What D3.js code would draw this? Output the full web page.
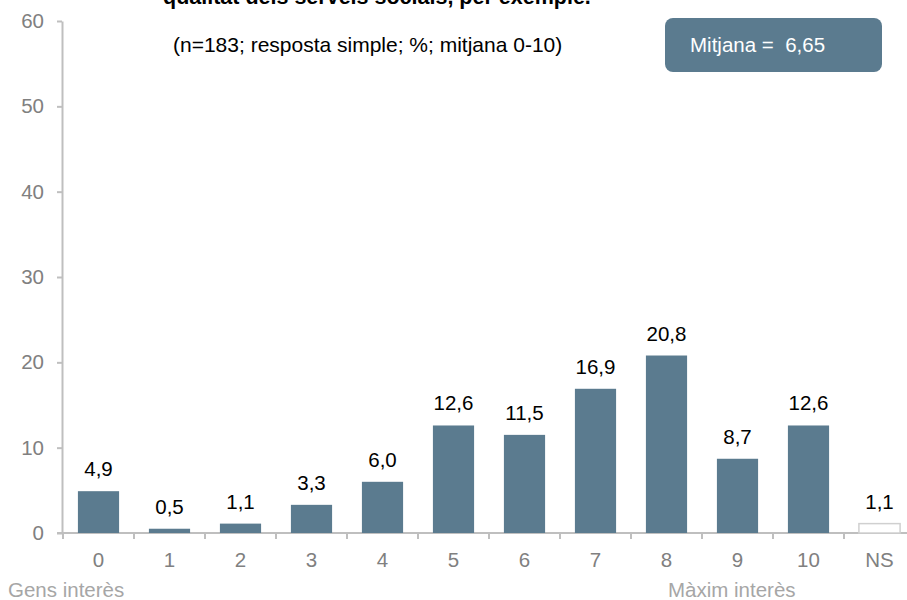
<!DOCTYPE html>
<html>
<head>
<meta charset="utf-8">
<script src="https://cdn.jsdelivr.net/npm/d3@7"></script>
<style>
  html, body { margin: 0; padding: 0; background: #fff; }
  svg { display: block; font-family: "Liberation Sans", Arial, sans-serif; }
</style>
</head>
<body>
<svg id="chart" width="907" height="600"></svg>
<script>
// Distribution of answers on the 0-10 interest scale, plus "NS"
const categories = ["0", "1", "2", "3", "4", "5", "6", "7", "8", "9", "10", "NS"];
const values = [4.9, 0.5, 1.1, 3.3, 6.0, 12.6, 11.5, 16.9, 20.8, 8.7, 12.6, 1.1];
const yTicks = [0, 10, 20, 30, 40, 50, 60];
const titleText = "qualitat dels serveis socials, per exemple.";
const subtitleText = "(n=183; resposta simple; %; mitjana 0-10)";
const meanText = "Mitjana =  6,65";
const scaleEnds = ["Gens interès", "Màxim interès"];

const svg = d3.select("#chart");
const plotLeft = 63, plotRight = 915, plotTop = 21, plotBottom = 533;
const fs = 20.5;

const x = d3.scaleBand().domain(categories).range([plotLeft, plotRight]).paddingInner(0.42).paddingOuter(0.21);
const y = d3.scaleLinear().domain([0, 60]).range([plotBottom, plotTop]);
const fmt = v => v.toFixed(1).replace(".", ",");

// Y axis
const yAxis = svg.append("g").attr("transform", `translate(${plotLeft - 1},0)`)
  .call(d3.axisLeft(y).tickValues(yTicks).tickSize(5).tickPadding(13).tickSizeOuter(0));
yAxis.select(".domain").attr("stroke", "#bfbfbf").attr("stroke-width", 2);
yAxis.selectAll(".tick line").attr("stroke", "#bfbfbf").attr("stroke-width", 2);
yAxis.selectAll(".tick text").attr("fill", "#808080").attr("font-size", fs)
  .attr("font-family", "Liberation Sans, Arial, sans-serif");

// X axis baseline with tick marks between categories
const xg = svg.append("g");
xg.append("line").attr("x1", plotLeft - 6).attr("x2", 907).attr("y1", plotBottom).attr("y2", plotBottom)
  .attr("stroke", "#bfbfbf").attr("stroke-width", 2);
const step = x.step();
const bounds = d3.range(categories.length + 1).map(i => plotLeft + i * step);
xg.selectAll("line.sep").data(bounds).join("line").attr("class", "sep")
  .attr("x1", d => d).attr("x2", d => d).attr("y1", plotBottom).attr("y2", plotBottom + 6)
  .attr("stroke", "#bfbfbf").attr("stroke-width", 2);
xg.selectAll("text.cat").data(categories).join("text").attr("class", "cat")
  .attr("x", d => x(d) + x.bandwidth() / 2).attr("y", 567)
  .attr("text-anchor", "middle").attr("font-size", fs).attr("fill", "#808080")
  .text(d => d);

// Bars
const data = categories.map((c, i) => ({ c, v: values[i] }));
svg.selectAll("rect.bar").data(data).join("rect").attr("class", "bar")
  .attr("x", d => x(d.c)).attr("width", x.bandwidth())
  .attr("y", d => y(d.v)).attr("height", d => plotBottom - y(d.v))
  .attr("fill", d => d.c === "NS" ? "#ffffff" : "#5b7b8f")
  .attr("stroke", d => d.c === "NS" ? "#d0d0d0" : "none")
  .attr("stroke-width", 1.5);

// Value labels
svg.selectAll("text.val").data(data).join("text").attr("class", "val")
  .attr("x", d => x(d.c) + x.bandwidth() / 2).attr("y", d => y(d.v) - 15)
  .attr("text-anchor", "middle").attr("font-size", fs).attr("fill", "#000")
  .text(d => fmt(d.v));

// Scale end captions
svg.append("text").attr("x", 8).attr("y", 597).attr("font-size", fs).attr("fill", "#a6a6a6").text(scaleEnds[0]);
svg.append("text").attr("x", 668).attr("y", 597).attr("font-size", fs).attr("fill", "#a6a6a6").text(scaleEnds[1]);

// Title (top line partially cut off) and subtitle
svg.append("text").attr("x", 163).attr("y", 4).attr("font-size", 21.5).attr("font-weight", "bold")
  .attr("fill", "#000").text(titleText);
svg.append("text").attr("x", 173).attr("y", 52).attr("font-size", 21).attr("fill", "#000").text(subtitleText);

// Mean box
svg.append("rect").attr("x", 665).attr("y", 18).attr("width", 217).attr("height", 54)
  .attr("rx", 8).attr("ry", 8).attr("fill", "#5b7b8f");
svg.append("text").attr("x", 690).attr("y", 52).attr("font-size", 20.5).attr("fill", "#fff")
  .attr("xml:space", "preserve").style("white-space", "pre").text(meanText);
</script>
</body>
</html>
